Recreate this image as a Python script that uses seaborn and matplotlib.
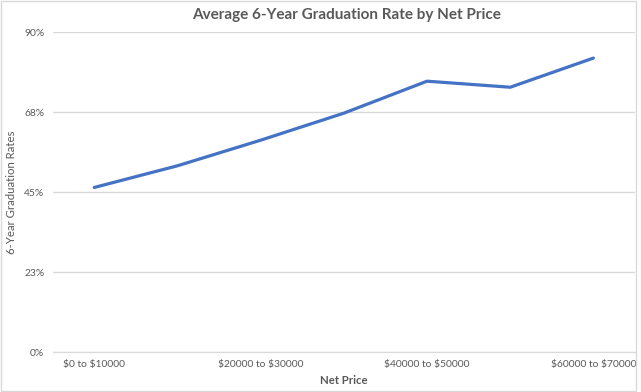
import pandas as pd
import seaborn as sns
import matplotlib.pyplot as plt
from matplotlib.patches import Rectangle

# data
price_ranges = ['$0 to $10000', '$10000 to $20000', '$20000 to $30000',
                '$30000 to $40000', '$40000 to $50000', '$50000 to $60000',
                '$60000 to $70000']
grad_rate = [46.3, 52.4, 59.6, 67.2, 76.2, 74.5, 82.7]
y_ticks = [0, 22.5, 45, 67.5, 90]
y_tick_labels = ['0%', '23%', '45%', '68%', '90%']

df = pd.DataFrame({'pos': range(len(price_ranges)), 'rate': grad_rate})

sns.set_style('white')
plt.rcParams['font.family'] = ['Lato', 'DejaVu Sans']
plt.rcParams['text.parse_math'] = False
grey = '#595959'

fig = plt.figure(figsize=(6.41, 3.92), dpi=100)
ax = fig.add_axes([0.0822, 0.102, 0.9084, 0.816])

sns.lineplot(x='pos', y='rate', data=df, ax=ax, color='#4472C4', linewidth=2.3)

ax.set_xlim(-0.5, len(price_ranges) - 0.5)
ax.set_ylim(0, 90)
ax.set_yticks(y_ticks)
ax.set_yticklabels(y_tick_labels)
ax.set_xticks(range(0, len(price_ranges), 2))
ax.set_xticklabels(price_ranges[::2])
ax.tick_params(axis='both', length=0, labelsize=7.4, labelcolor=grey, pad=6)
ax.grid(axis='y', color='#d9d9d9', linewidth=1)
ax.set_axisbelow(True)
for s in ['top', 'right', 'left']:
    ax.spines[s].set_visible(False)
ax.spines['bottom'].set_color('#d9d9d9')

ax.set_xlabel('Net Price', fontsize=8.2, fontweight='bold', color=grey, labelpad=4)
ax.set_ylabel('6-Year Graduation Rates', fontsize=8.2, color=grey, labelpad=5)
fig.text(0.54, 0.963, 'Average 6-Year Graduation Rate by Net Price',
         ha='center', va='center', fontsize=11, fontweight='bold', color=grey)

fig.patches.append(Rectangle((0.002, 0.003), 0.99, 0.994, transform=fig.transFigure,
                             fill=False, edgecolor='#d9d9d9', linewidth=1))

fig.savefig('out.png', dpi=100)
